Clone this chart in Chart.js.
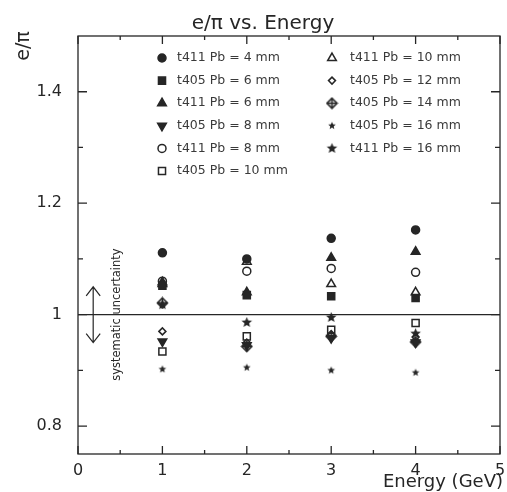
<!DOCTYPE html>
<html>
<head>
<meta charset="utf-8">
<script src="https://cdn.jsdelivr.net/npm/chart.js"></script>
<style>
body { margin: 0; background: #fff; }
#wrap { width: 507px; height: 492px; }
</style>
</head>
<body>
<div id="wrap"><canvas id="chart" width="507" height="492"></canvas></div>
<script>
// energies (GeV)
var energy = [1, 2, 3, 4];

// e/pi ratio per module / lead thickness
var t411_4mm  = [1.111, 1.100, 1.137, 1.152];
var t405_6mm  = [1.052, 1.035, 1.033, 1.030];
var t411_6mm  = [1.058, 1.040, 1.102, 1.113];
var t405_8mm  = [0.952, 0.945, 0.958, 0.950];
var t411_8mm  = [1.060, 1.078, 1.083, 1.076];
var t405_10mm = [0.934, 0.961, 0.973, 0.985];
var t411_10mm = [1.055, 1.095, 1.055, 1.040];
var t405_12mm = [0.970, 0.950, 0.965, 0.960];
var t405_14mm = [1.021, 0.943, 0.961, 0.951];
var t405_16mm = [0.902, 0.905, 0.900, 0.896];
var t411_16mm = [1.018, 0.986, 0.995, 0.966];

var seriesLabels = [
	't411 Pb = 4 mm', 't405 Pb = 6 mm', 't411 Pb = 6 mm', 't405 Pb = 8 mm',
	't411 Pb = 8 mm', 't405 Pb = 10 mm', 't411 Pb = 10 mm', 't405 Pb = 12 mm',
	't405 Pb = 14 mm', 't405 Pb = 16 mm', 't411 Pb = 16 mm'
];

var xTicks = [0, 1, 2, 3, 4, 5];
var xMinor = [0.5, 1.5, 2.5, 3.5, 4.5];
var yTicks = [0.8, 1, 1.2, 1.4];
var yMinor = [0.9, 1.1, 1.3];
var refLine = [0, 5];      // e/pi = 1 line, x extent
var sysUnc = 0.05;         // systematic uncertainty (+/-)

var ink = '#262626';
var font = '"DejaVu Sans", Arial, sans-serif';

function makeStar(r) {
	var s = Math.ceil(r * 2 + 2);
	var c = document.createElement('canvas');
	c.width = s; c.height = s;
	var g = c.getContext('2d');
	g.beginPath();
	for (var k = 0; k < 10; k++) {
		var rr = k % 2 ? r * 0.45 : r;
		var ang = -Math.PI / 2 + k * Math.PI / 5;
		g.lineTo(s / 2 + rr * Math.cos(ang), s / 2 + rr * Math.sin(ang));
	}
	g.closePath();
	g.fillStyle = ink;
	g.fill();
	return c;
}

function makeCrossDiamond(r) {
	var s = Math.ceil(r * 2 + 3);
	var c = document.createElement('canvas');
	c.width = s; c.height = s;
	var g = c.getContext('2d');
	var m = s / 2;
	g.strokeStyle = ink;
	g.lineWidth = 1.6;
	g.beginPath();
	g.moveTo(m, m - r); g.lineTo(m + r, m); g.lineTo(m, m + r); g.lineTo(m - r, m);
	g.closePath();
	g.stroke();
	g.beginPath();
	g.moveTo(m - r, m); g.lineTo(m + r, m);
	g.moveTo(m, m - r); g.lineTo(m, m + r);
	g.stroke();
	return c;
}

var bigStar = makeStar(5.5);
var smallStar = makeStar(4);
var crossDiamond = makeCrossDiamond(5);

var values = [t411_4mm, t405_6mm, t411_6mm, t405_8mm, t411_8mm, t405_10mm,
	t411_10mm, t405_12mm, t405_14mm, t405_16mm, t411_16mm];

// marker look for each series
var markers = [
	{ style: 'circle', r: 4, fill: true },
	{ style: 'rect', r: 5, fill: true },
	{ style: 'triangle', r: 5, fill: true },
	{ style: 'triangle', r: 5, fill: true, rot: 180 },
	{ style: 'circle', r: 4, fill: false },
	{ style: 'rect', r: 5, fill: false },
	{ style: 'triangle', r: 5, fill: false },
	{ style: 'rectRot', r: 3.5, fill: false },
	{ style: crossDiamond, r: 5, fill: false },
	{ style: smallStar, r: 4, fill: true },
	{ style: bigStar, r: 5.5, fill: true }
];

var datasets = [];
for (var i = 0; i < values.length; i++) {
	var pts = [];
	for (var j = 0; j < energy.length; j++) {
		pts.push({ x: energy[j], y: values[i][j] });
	}
	datasets.push({
		label: seriesLabels[i],
		data: pts,
		showLine: false,
		pointStyle: markers[i].style,
		pointRadius: markers[i].r,
		pointRotation: markers[i].rot || 0,
		pointBorderWidth: 1.5,
		pointBorderColor: ink,
		pointBackgroundColor: markers[i].fill ? ink : 'rgba(255,255,255,0)',
		inLegend: true
	});
}

datasets.push({
	label: 'ref',
	data: [{ x: refLine[0], y: 1 }, { x: refLine[1], y: 1 }],
	showLine: true,
	borderColor: ink,
	borderWidth: 1.3,
	pointRadius: 0,
	inLegend: false
});

var decorations = {
	id: 'decorations',
	afterDraw: function(chart) {
		var ctx = chart.ctx, a = chart.chartArea;
		var xs = chart.scales.x, ys = chart.scales.y;
		ctx.save();
		ctx.strokeStyle = ink;
		ctx.lineWidth = 1.3;
		ctx.strokeRect(a.left, a.top, a.right - a.left, a.bottom - a.top);

		// inward ticks on all four sides
		function xTick(v, len) {
			var px = xs.getPixelForValue(v);
			ctx.beginPath();
			ctx.moveTo(px, a.bottom); ctx.lineTo(px, a.bottom - len);
			ctx.moveTo(px, a.top); ctx.lineTo(px, a.top + len);
			ctx.stroke();
		}
		function yTick(v, len) {
			var py = ys.getPixelForValue(v);
			ctx.beginPath();
			ctx.moveTo(a.left, py); ctx.lineTo(a.left + len, py);
			ctx.moveTo(a.right, py); ctx.lineTo(a.right - len, py);
			ctx.stroke();
		}
		xTicks.forEach(function(v) { xTick(v, 8); });
		xMinor.forEach(function(v) { xTick(v, 4); });
		yTicks.forEach(function(v) { yTick(v, 9); });
		yMinor.forEach(function(v) { yTick(v, 5); });

		// titles
		ctx.fillStyle = ink;
		ctx.font = '20px ' + font;
		ctx.textAlign = 'center';
		ctx.textBaseline = 'alphabetic';
		ctx.fillText('e/\u03c0 vs. Energy', 263, 29);

		ctx.font = '18px ' + font;
		ctx.textAlign = 'right';
		ctx.fillText('Energy (GeV)', 503, 487);

		ctx.save();
		ctx.translate(29, 46);
		ctx.rotate(-Math.PI / 2);
		ctx.textAlign = 'center';
		ctx.font = '19px ' + font;
		ctx.fillText('e/\u03c0', 0, 0);
		ctx.restore();

		// systematic uncertainty arrow
		var ax = xs.getPixelForValue(0.18);
		var y1 = ys.getPixelForValue(1 + sysUnc);
		var y2 = ys.getPixelForValue(1 - sysUnc);
		ctx.lineWidth = 1.2;
		ctx.beginPath();
		ctx.moveTo(ax, y1); ctx.lineTo(ax, y2);
		ctx.moveTo(ax - 7, y1 + 9); ctx.lineTo(ax, y1); ctx.lineTo(ax + 7, y1 + 9);
		ctx.moveTo(ax - 7, y2 - 9); ctx.lineTo(ax, y2); ctx.lineTo(ax + 7, y2 - 9);
		ctx.stroke();

		ctx.save();
		ctx.translate(xs.getPixelForValue(0.46), ys.getPixelForValue(1));
		ctx.rotate(-Math.PI / 2);
		ctx.font = '11.5px ' + font;
		ctx.textAlign = 'center';
		ctx.textBaseline = 'middle';
		ctx.fillText('systematic uncertainty', 0, 0);
		ctx.restore();

		// two-column legend inside the frame
		var n = 0;
		chart.data.datasets.forEach(function(ds) {
			if (!ds.inLegend) return;
			var col = n < 6 ? 0 : 1;
			var row = n < 6 ? n : n - 6;
			var sx = col ? 332 : 162;
			var tx = col ? 350 : 177;
			var sy = 58 + row * 22.6;
			ctx.fillStyle = ds.pointBackgroundColor;
			ctx.strokeStyle = ds.pointBorderColor;
			ctx.lineWidth = ds.pointBorderWidth;
			Chart.helpers.drawPoint(ctx, {
				pointStyle: ds.pointStyle,
				radius: ds.pointRadius,
				rotation: ds.pointRotation,
				borderWidth: ds.pointBorderWidth
			}, sx, sy);
			ctx.fillStyle = '#3a3a3a';
			ctx.font = '12.5px ' + font;
			ctx.textAlign = 'left';
			ctx.textBaseline = 'middle';
			ctx.fillText(ds.label, tx, sy);
			n++;
		});
		ctx.restore();
	}
};

var canvas = document.getElementById('chart');
new Chart(canvas, {
	type: 'scatter',
	data: { datasets: datasets },
	options: {
		responsive: false,
		animation: false,
		layout: { padding: { top: 36, right: 1, left: 0, bottom: 0 } },
		plugins: {
			legend: { display: false },
			title: { display: false },
			tooltip: { enabled: false }
		},
		scales: {
			x: {
				type: 'linear',
				min: 0,
				max: 5,
				afterBuildTicks: function(s) { s.ticks = xTicks.map(function(v) { return { value: v }; }); },
				afterFit: function(s) { s.height = 38; s.paddingLeft = 0; s.paddingRight = 0; },
				grid: { display: false, drawTicks: false },
				border: { display: false },
				ticks: {
					padding: 7,
					color: ink,
					font: { size: 16, family: font },
					callback: function(v) { return String(v); }
				}
			},
			y: {
				type: 'linear',
				min: 0.75,
				max: 1.5,
				afterBuildTicks: function(s) { s.ticks = yTicks.map(function(v) { return { value: v }; }); },
				afterFit: function(s) { s.width = 78; s.paddingTop = 0; s.paddingBottom = 0; },
				grid: { display: false, drawTicks: false },
				border: { display: false },
				ticks: {
					padding: 16,
					color: ink,
					font: { size: 16, family: font },
					callback: function(v) { return String(v); }
				}
			}
		}
	},
	plugins: [decorations]
});
</script>
</body>
</html>
